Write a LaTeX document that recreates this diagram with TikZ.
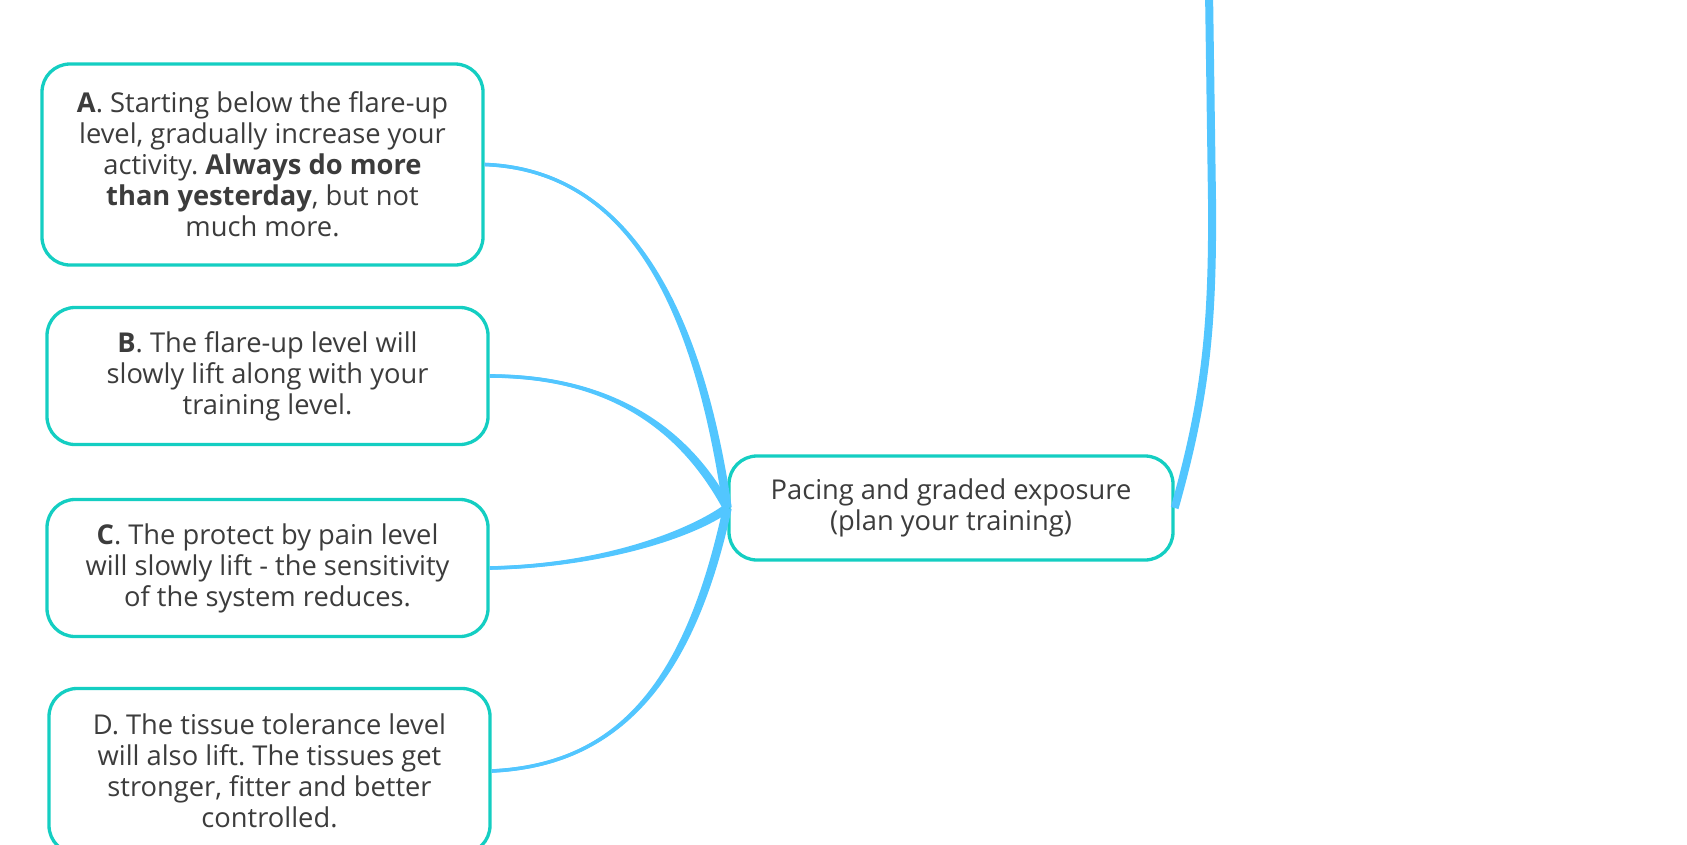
\documentclass[tikz,border=0pt]{standalone}
\usepackage{fontspec}
\setmainfont{Open Sans}
\usetikzlibrary{calc}
\frenchspacing
\definecolor{teal1}{RGB}{20,206,194}
\definecolor{conn}{RGB}{82,198,255}
\definecolor{txt}{RGB}{60,60,60}
\newcommand\taperline[6]{%
  \fill[conn] ($#1!#5!90:#2$) .. controls ($#2!#5!-90:#1$) and ($#3!#6!90:#4$) .. ($#4!#6!-90:#3$)
    -- ($#4!#6!90:#3$) .. controls ($#3!#6!-90:#4$) and ($#2!#5!90:#1$) .. ($#1!#5!-90:#2$) -- cycle;
  \draw[conn, line width=3.4pt] #1 .. controls #2 and #3 .. #4;}
\begin{document}
\begin{tikzpicture}[x=1pt,y=-1pt,
  box/.style={draw=teal1, line width=3.3pt, rounded corners=28pt, fill=white,
    minimum width=441pt, inner sep=0pt, align=center, text=txt,
    font=\fontsize{27.3}{31}\selectfont\frenchspacing}]
\useasboundingbox (0,0) rectangle (1687,844);
\node[box, minimum height=201pt] (a) at (262.5,164.5) {\textbf{A}. Starting below the flare-up\\level, gradually increase your\\activity. \textbf{Always do more}\\\textbf{than yesterday}, but not\\much more.};
\node[box, minimum height=137pt] (b) at (267.5,376) {\textbf{B}. The flare-up level will\\slowly lift along with your\\training level.};
\node[box, minimum height=137pt] (c) at (267.5,568) {\textbf{C}. The protect by pain level\\will slowly lift - the sensitivity\\of the system reduces.};
\node[box, minimum height=165pt] (d) at (269.5,771) {D. The tissue tolerance level\\will also lift. The tissues get\\stronger, fitter and better\\controlled.};
\node[box, minimum width=444pt, minimum height=104pt] (ctr) at (951,508) {Pacing and graded exposure\\(plan your training)};
\coordinate (top) at (1209,-10);
\taperline{(a.east)}{(635,170)}{(700,320)}{(ctr.west)}{1.8pt}{4.4pt}
\taperline{(b.east)}{(600,376)}{(680,420)}{(ctr.west)}{1.8pt}{4.4pt}
\taperline{(c.east)}{(600,566)}{(690,535)}{(ctr.west)}{1.8pt}{4.4pt}
\taperline{(d.east)}{(620,765)}{(690,680)}{(ctr.west)}{1.8pt}{4.4pt}
\draw[conn, line width=8pt] (ctr.east) .. controls (1205,400) and (1213,330) .. (1212,200) -- (top);
\end{tikzpicture}
\end{document}
